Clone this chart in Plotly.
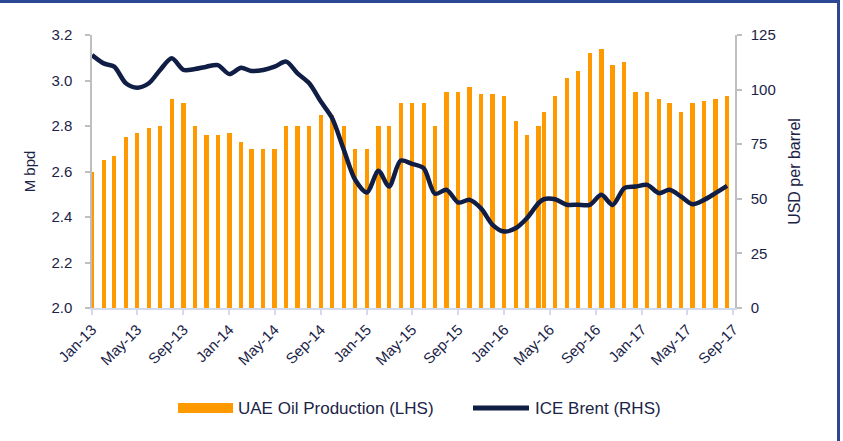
import pandas as pd
import plotly.graph_objects as go

# ---- data -------------------------------------------------------------
# month-start observations Jan-13 .. Apr-16, then mid-month observations Apr-16 .. Aug-17
dates_start = pd.date_range("2013-01-01", "2016-04-01", freq="MS")
dates_mid = pd.date_range("2016-04-01", "2017-08-01", freq="MS") + pd.Timedelta(days=14)
dates = list(dates_start) + list(dates_mid)

uae_production = [
    2.60, 2.65, 2.67, 2.75, 2.77, 2.79, 2.80, 2.92, 2.90, 2.80, 2.76, 2.76,
    2.77, 2.73, 2.70, 2.70, 2.70, 2.80, 2.80, 2.80, 2.85, 2.85, 2.80, 2.70,
    2.70, 2.80, 2.80, 2.90, 2.90, 2.90, 2.80, 2.95, 2.95, 2.97, 2.94, 2.94,
    2.93, 2.82, 2.76, 2.80,
    2.86, 2.93, 3.01, 3.04, 3.12, 3.14, 3.07, 3.08, 2.95, 2.95, 2.92, 2.90,
    2.86, 2.90, 2.91, 2.92, 2.93,
]

ice_brent = [
    115.8, 112.0, 110.5, 102.9, 100.9, 102.9, 109.0, 114.3, 109.0, 109.4, 110.5, 111.2,
    107.1, 110.0, 108.5, 109.0, 110.5, 112.8, 107.4, 102.9, 94.5, 86.9, 72.4, 58.7,
    52.9, 62.8, 55.6, 67.5, 66.0, 64.0, 52.3, 54.1, 48.3, 49.5, 45.5, 38.1,
    35.0, 36.6, 41.1, 48.0,
    49.8, 49.8, 47.3, 47.3, 47.2, 51.8, 47.2, 54.9, 55.6, 56.4, 52.6, 54.1,
    51.0, 47.5, 49.5, 52.6, 55.9,
]

left_ticks = [2.0, 2.2, 2.4, 2.6, 2.8, 3.0, 3.2]
right_ticks = [0, 25, 50, 75, 100, 125]

series_names = ["UAE Oil Production (LHS)", "ICE Brent (RHS)"]

# ---- style ------------------------------------------------------------
ORANGE = "#FF9900"
NAVY = "#101d44"
TEXT = "#1b2447"
FONT = "Liberation Sans, Arial, sans-serif"
BORDER = "#2c4793"

fig = go.Figure()

fig.add_trace(go.Bar(
    x=dates, y=uae_production, name=series_names[0],
    marker=dict(color=ORANGE, line=dict(width=0)),
    width=11.5 * 86400000, yaxis="y", showlegend=False,
))

fig.add_trace(go.Scatter(
    x=dates, y=ice_brent, name=series_names[1], mode="lines",
    line=dict(color=NAVY, width=4.5, shape="spline", smoothing=0.8),
    yaxis="y2", showlegend=False,
))

fig.update_layout(
    width=843, height=441,
    margin=dict(l=92, r=108, t=35, b=133, autoexpand=False),
    paper_bgcolor="white", plot_bgcolor="white",
    font=dict(family=FONT, size=15, color=TEXT),
    bargap=0,
    xaxis=dict(
        type="date", automargin=False,
        range=["2013-01-01", "2017-09-05"],
        tick0="2013-01-01", dtick="M4", tickformat="%b-%y",
        tickangle=-45,
        ticks="outside", ticklen=5, tickcolor="#d3daee", tickwidth=1.5,
        showline=True, linecolor="#d3daee", linewidth=2,
        showgrid=False, zeroline=False,
        tickfont=dict(family=FONT, size=15, color=TEXT),
    ),
    yaxis=dict(
        automargin=False,
        range=[2.0, 3.2], tickvals=left_ticks, tickformat=".1f",
        ticks="outside", ticklen=5, tickcolor="#bfbfbf", tickwidth=1.5,
        ticklabelstandoff=10,
        showline=True, linecolor="#bfbfbf", linewidth=1.5,
        showgrid=False, zeroline=False,
        tickfont=dict(family=FONT, size=15, color=TEXT),
        title=dict(text="M bpd", font=dict(family=FONT, size=15, color=TEXT), standoff=12),
    ),
    yaxis2=dict(
        automargin=False,
        range=[0, 125], tickvals=right_ticks,
        overlaying="y", side="right",
        ticks="outside", ticklen=5, tickcolor="#bfbfbf", tickwidth=1.5,
        ticklabelstandoff=6,
        showline=True, linecolor="#bfbfbf", linewidth=1.5,
        showgrid=False, zeroline=False,
        tickfont=dict(family=FONT, size=15, color=TEXT),
        title=dict(text="USD per barrel", font=dict(family=FONT, size=16, color=TEXT), standoff=14),
    ),
)

# ---- custom legend (paper coordinates) -------------------------------
PW, PH, L, B = 643.0, 273.0, 92.0, 308.0
px = lambda v: (v - L) / PW
py = lambda v: (B - v) / PH

fig.add_shape(type="rect", xref="paper", yref="paper",
              x0=px(178), x1=px(233), y0=py(413), y1=py(403),
              fillcolor=ORANGE, line=dict(width=0))
fig.add_annotation(xref="paper", yref="paper", x=px(236), y=py(408),
                   xanchor="left", yanchor="middle", showarrow=False,
                   text=series_names[0], font=dict(family=FONT, size=17, color=TEXT))
fig.add_shape(type="line", xref="paper", yref="paper",
              x0=px(473), x1=px(529), y0=py(408), y1=py(408),
              line=dict(color=NAVY, width=5))
fig.add_annotation(xref="paper", yref="paper", x=px(533), y=py(408),
                   xanchor="left", yanchor="middle", showarrow=False,
                   text=series_names[1], font=dict(family=FONT, size=17, color=TEXT))

# ---- frame lines (top and right) -------------------------------------
fig.add_shape(type="line", xref="paper", yref="paper",
              x0=px(0), x1=px(840), y0=py(1.5), y1=py(1.5),
              line=dict(color=BORDER, width=3))
fig.add_shape(type="line", xref="paper", yref="paper",
              x0=px(838.5), x1=px(838.5), y0=py(0), y1=py(441),
              line=dict(color=BORDER, width=3))

fig.write_html(
    "out.html",
    config={"displayModeBar": False},
    post_script="document.body.style.margin='0';document.body.style.overflow='hidden';",
)
